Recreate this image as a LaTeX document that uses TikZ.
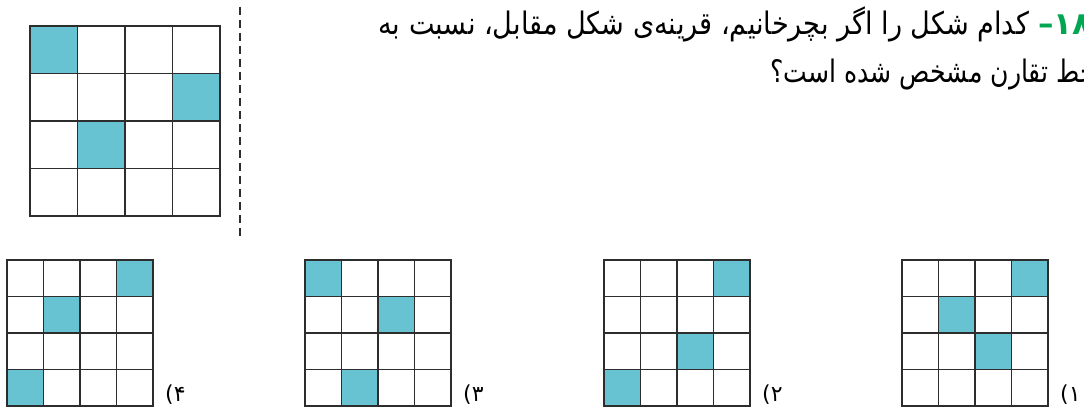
\documentclass[tikz,border=0pt]{standalone}
\usepackage{fontspec}
\usetikzlibrary{positioning}
\newfontfamily\labelfont{DejaVu Sans}
\newfontfamily\arabicfont[Script=Arabic]{DejaVu Sans}
\newfontfamily\arabicnarrow[Script=Arabic,FakeStretch=0.875]{DejaVu Sans}
\newfontfamily\arabicnarrower[Script=Arabic,FakeStretch=0.81]{DejaVu Sans}
\TeXXeTstate=1
\definecolor{qcyan}{RGB}{103,195,209}
\definecolor{qgreen}{RGB}{0,166,81}
\definecolor{qline}{RGB}{45,45,45}

\begin{document}
\begin{tikzpicture}[x=1pt,y=-1pt,node distance=0pt and 9pt,
    cellfill/.style={fill=qcyan},
    gridline/.style={draw=qline,line width=1.4pt,line cap=rect},
    qtext/.style={font=\arabicnarrow\fontsize{31}{36}\selectfont,inner sep=0pt,anchor=base east},
    qnumber/.style={font=\labelfont\bfseries\fontsize{31}{36}\selectfont,text=qgreen,inner sep=0pt,anchor=base east},
    optlabel/.style={font=\fontsize{22}{26}\selectfont,inner sep=0pt,anchor=base west}]
  \useasboundingbox (0,0) rectangle (1084,411);
  \clip (0,0) rectangle (1084,411);
  % given figure
  \foreach \c/\r in {0/0,3/1,1/2}
    \fill[cellfill] (30+47.5*\c,26+47.5*\r) rectangle ++(47.5,47.5);
  \foreach \i in {0,...,4} {
    \draw[gridline,line width=1.7pt] (30+47.5*\i,26) -- ++(0,190);
    \draw[gridline,line width=1.7pt] (30,26+47.5*\i) -- ++(190,0);
  }
  \coordinate (axis top) at (240,7);
  \coordinate (axis bot) at (240,236);
  \draw[qline,line width=2pt,dash pattern=on 8pt off 5pt] (axis top) -- (axis bot);
  % question
  \node[qnumber] (qnum) at (1092,35) {\mbox{–}\mbox{۱۸}};
  \node[qtext,base left=of qnum] (qline1) {\beginR کدام شکل را اگر بچرخانیم، قرینه‌ی شکل مقابل، نسبت به\endR};
  \node[qtext,font=\arabicnarrower\fontsize{31}{36}\selectfont] (qline2) at (1096,83) {\beginR خط تقارن مشخص شده است؟\endR};
  % answer choices
  \foreach \gx/\num/\cells in {7/۴/{3/0,1/1,0/3},305/۳/{0/0,2/1,1/3},604/۲/{3/0,2/2,0/3},902/۱/{3/0,1/1,2/2}} {
    \foreach \c/\r in \cells
      \fill[cellfill] (\gx+36.5*\c,260+36.5*\r) rectangle ++(36.5,36.5);
    \foreach \i in {0,...,4} {
      \draw[gridline] (\gx+36.5*\i,260) -- ++(0,146);
      \draw[gridline] (\gx,260+36.5*\i) -- ++(146,0);
    }
    \node[optlabel] (opt\num) at (\gx+158,402) {\labelfont(\arabicfont\num};
  }
\end{tikzpicture}
\end{document}
